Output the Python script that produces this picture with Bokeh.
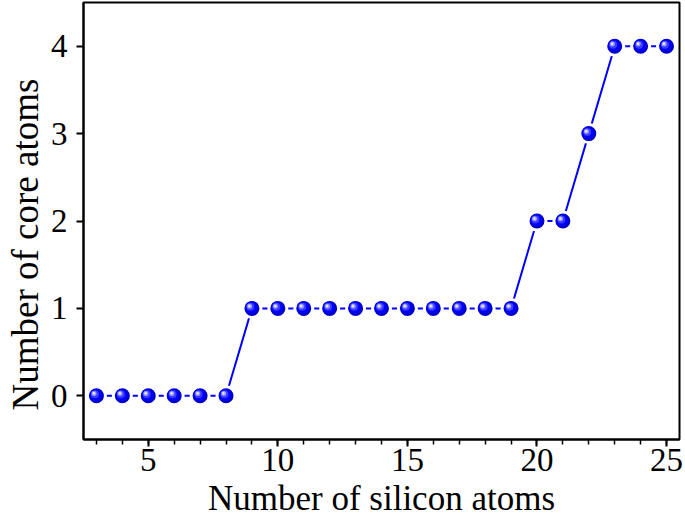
from bokeh.plotting import figure
from bokeh.models import ColumnDataSource, SingleIntervalTicker, FixedTicker, Title
from bokeh.transform import dodge
from bokeh.embed import file_html
from bokeh.resources import INLINE

silicon_atoms = list(range(3, 26))
core_atoms = [0, 0, 0, 0, 0, 0,
              1, 1, 1, 1, 1, 1, 1, 1, 1, 1, 1,
              2, 2, 3, 4, 4, 4]
y_ticks = [0, 1, 2, 3, 4]

src = ColumnDataSource(dict(x=silicon_atoms, y=core_atoms))

p = figure(width=685, height=520, x_range=(2.5, 25.5), y_range=(-0.5, 4.5),
           output_backend="svg", toolbar_location=None,
           min_border_left=82, min_border_right=6, min_border_top=2, min_border_bottom=78)
p.grid.visible = False
p.background_fill_color = "white"
p.border_fill_color = "white"
p.outline_line_color = "black"
p.outline_line_width = 2

FONT = "Liberation Serif"
for ax in (p.xaxis[0], p.yaxis[0]):
    ax.axis_line_width = 2
    ax.major_tick_line_width = 2
    ax.minor_tick_line_width = 1.5
    ax.major_tick_in = 0
    ax.major_tick_out = 7
    ax.minor_tick_in = 0
    ax.minor_tick_out = 5
    ax.major_label_text_font = FONT
    ax.major_label_text_font_size = "33px"
    ax.major_label_text_color = "black"
    ax.axis_label_text_font = FONT
    ax.axis_label_text_font_size = "35px"
    ax.axis_label_text_font_style = "normal"
    ax.axis_label_text_color = "black"

p.xaxis.ticker = SingleIntervalTicker(interval=5, num_minor_ticks=5)
p.yaxis.ticker = FixedTicker(ticks=y_ticks)
p.xaxis.axis_label = "Number of silicon atoms"
p.xaxis.major_label_standoff = 2
p.xaxis.axis_label_standoff = 5
p.yaxis.major_label_standoff = 9

ylab = Title(text="Number of core atoms", align="left", offset=29,
             text_font=FONT, text_font_size="37px", text_font_style="normal",
             text_color="black", standoff=4)
p.add_layout(ylab, "left")

p.line("x", "y", source=src, line_color="#0000FF", line_width=2)
# white gap around markers
p.scatter("x", "y", source=src, size=21, fill_color="white", line_color=None)
# sphere shading
p.scatter("x", "y", source=src, size=15, fill_color="#0000C8", line_color=None)
p.scatter(dodge("x", -0.03, range=p.x_range), dodge("y", 0.009, range=p.y_range),
          source=src, size=12, fill_color="#0000FF", line_color=None)
p.scatter(dodge("x", -0.06, range=p.x_range), dodge("y", 0.018, range=p.y_range),
          source=src, size=8, fill_color="#3c3cff", line_color=None)
p.scatter(dodge("x", -0.09, range=p.x_range), dodge("y", 0.025, range=p.y_range),
          source=src, size=5, fill_color="#9a9aff", line_color=None)
p.scatter(dodge("x", -0.1, range=p.x_range), dodge("y", 0.028, range=p.y_range),
          source=src, size=2.5, fill_color="#e8e8ff", line_color=None)

open("out.html", "w").write(file_html(p, INLINE))
